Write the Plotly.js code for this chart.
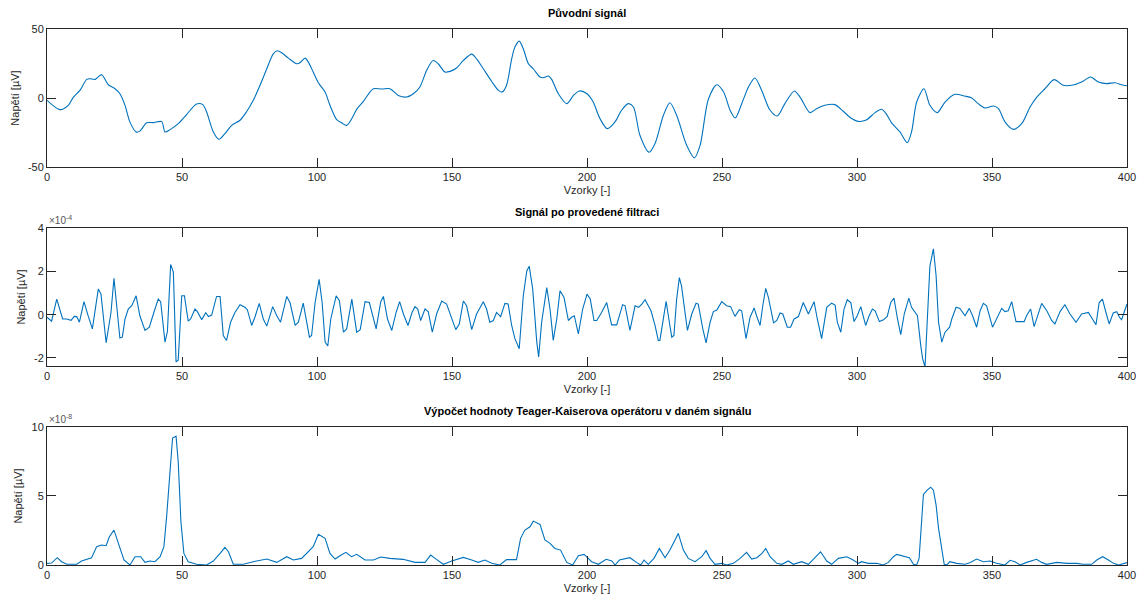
<!DOCTYPE html>
<html>
<head>
<meta charset="utf-8">
<script src="https://cdn.plot.ly/plotly-3.0.1.min.js"></script>
<style>html,body{margin:0;padding:0;background:#fff;}#chart{width:1148px;height:609px;}</style>
</head>
<body>
<div id="chart"></div>
<script>
// ---- Data ----
// Plot 1: original signal [µV]
const origX = [0,4.8,7.9,9.8,12.2,14.7,15.9,17.8,20.2,22.7,25.2,27,28.9,30.7,33,34.4,36.9,39.4,42.5,43.7,45.6,48.6,51.7,55.4,57.7,59.1,61.6,63.7,65.9,68.4,71.5,73.9,76.4,78.9,81.4,83.8,85.3,86.9,89.4,92.5,93.7,95.6,96.8,98.6,100.5,103,104.8,107.3,109.1,111,112.9,114.7,117.2,119.6,120.9,124,127,130.1,133.2,135.7,138.1,140.6,143,144.9,147.4,149.3,151.7,154.2,157.3,159.1,161.6,164.7,167.2,168.6,170.2,172.1,173.3,174.9,176.4,178.3,180.1,182.6,183.8,185.7,186.9,189.4,192.5,195,197.2,200,202.3,204.8,207.5,210.4,212.8,215.3,217.2,219.6,223,225.2,228.3,230.7,233.2,236.9,239.8,241.9,245,248.1,250.6,253,254.9,257.3,259.8,262.2,264.7,267.8,270.5,273.3,276.8,278.9,282.6,285,288.1,291.8,294.9,298,300.3,303.4,306.7,309.1,311,312.8,315.9,318.6,320.2,322.1,324.8,327,329.7,332.6,336.3,339.9,342.5,344.9,347.4,350.5,352.4,354.8,357.9,361,364.1,366.6,369.6,373,376.4,379.5,383.2,386.5,389.4,392.5,395.6,398,400];
const origY = [-1.7,-8.4,-5.3,0.7,5.5,13.5,14,13.5,16.9,9.6,6.7,3.1,-5.3,-17.3,-24.6,-24,-18,-17.8,-17.1,-24.6,-22.9,-18.6,-12,-4.3,-4.8,-10,-24.6,-29.9,-25.8,-19.8,-16.1,-10,-1.7,9.2,21.2,32,34.2,32.8,28.9,24.8,25.5,28.9,26,18.8,11.1,4.3,-5.3,-15.7,-18,-19.8,-14.9,-8.2,-2.4,4.3,6.7,6.5,6.7,1.9,0.7,3.1,8,20,27.2,24.8,18.8,19.3,21.7,27.2,31.8,28.4,21.2,12,5.5,4.3,9.2,28.4,36.9,41.2,35.7,24.8,21.2,15.2,14.7,15.9,13.5,3.1,-4.1,1.9,5.1,3.1,-2.9,-14.9,-22.2,-17.3,-8.9,-4.1,-6.5,-27,-39.3,-33,-12.5,-3.4,-12.5,-34.2,-43.4,-34.2,-0.5,9.6,4.3,-8.9,-14.5,-4.1,8,14.5,5.5,-8.9,-13,-4.1,5.1,0.7,-10.6,-7.7,-5.3,-4.8,-9.6,-14.9,-16.9,-16,-10.6,-8.2,-12,-18,-24.6,-32.3,-24.6,-2.9,6.7,-5.3,-10.6,-2.9,2.7,1.4,0,-4.1,-7.2,-5.8,-7.7,-17.3,-22.7,-18.6,-6.5,0.7,6.7,13.3,9.2,9.2,11.6,15.2,11.6,10.4,11.1,9.6,8.9];

// Plot 2: filtered signal [×1e-4 µV]
const filtX = [0,1.7,3.6,5.8,7.3,8.9,10.1,11,12,13.7,15.3,16.8,19,20,21.9,23.7,24.8,26,27,27.9,28.9,30.1,31.4,33,34.4,36.3,37.9,39.4,41.2,42.1,43.7,44.6,45.8,46.8,47.8,48.6,49.9,50.9,52.3,53.2,54.8,55.7,57.3,58.8,59.8,61,62.8,64.1,65.3,66.5,68,69.6,71.5,73.3,74.2,75.8,77,78.6,80.1,81.4,83.6,85.1,86.5,88.8,90,91.9,93.1,94.9,97.2,98,99.3,100.8,101.9,103,104,105.1,107.1,108.3,109.8,111,112.9,114.7,116,117.8,119.4,121.9,123.6,124.6,126.1,127.7,129.3,130.6,132,133.7,135.2,136.3,137.3,138.4,140,141.2,142.7,144.3,146.2,148,149.9,151.4,152.7,154.2,155.4,157.3,159.1,161.6,162.8,164,165.3,166.5,168,169.6,170.8,172.1,173.3,174.9,176.4,177.7,178.6,179.9,181.4,182.1,183.2,185.1,186.3,187.5,188.8,190,191.5,193.1,194.3,195.3,196.8,198.4,200,201.2,202.6,203.6,205.4,207.3,209.1,211,213.2,214.1,215.9,217.8,219.1,220.3,221.5,223.7,225.2,226.4,227,228.3,229.3,230.5,231.4,232.2,233.2,234.2,235,237.2,238.8,240.4,241.2,242.9,244.1,245.6,246.8,248.1,249.9,251.7,253.2,254.8,256.4,257.3,258.9,260.4,261.9,262.8,264.1,265.1,266.2,267.2,269.1,270.3,271.5,272.5,274.2,275.4,276.7,278.3,280.1,282,284.1,285.3,286.9,288.8,290.6,291.9,292.7,294,295.2,296.4,297.7,298.9,300.1,301.4,303.2,304.5,305.7,306.7,308.3,309.8,311.2,312.5,313.7,315,316.2,317.5,319.2,320.2,321.4,322.4,323.6,324.3,325.2,326,327,328.3,329.3,330.2,331.4,332.6,334.3,335.1,336.7,338.1,340,341.6,342.8,344.3,345.6,346.8,348,350.2,351.7,353.6,354.8,356,357.3,358.9,360.4,361.9,362.8,364.3,365.6,367.2,368.4,370.3,372.1,373.3,375.2,377,378.9,381.1,383.2,385.7,386.9,388.5,389.7,390.9,392.2,393.4,394.9,396.2,397.2,398,398.9,400];
const filtY = [-0.12,-0.3,0.72,-0.2,-0.2,-0.26,-0.08,-0.09,-0.35,0.6,-0.08,-0.66,1.18,0.95,-1.3,0.1,1.68,0.26,-1.08,-1.04,-0.2,0.26,0.41,0.87,-0.05,-0.73,-0.58,0.03,0.72,0.6,-1.27,-0.78,2.32,1.97,-2.18,-2.1,0.87,0.87,-0.3,-0.2,0.26,0.14,-0.23,0.09,-0.09,-0.02,0.84,0.84,-0.96,-1.19,-0.35,0.1,0.46,0.34,0.23,-0.5,-0.12,0.52,-0.2,-0.53,0.37,-0.05,-0.35,0.84,0.56,-0.5,-0.35,0.53,-1.04,-0.96,0.56,1.63,0.56,-1.27,-1.45,-0.2,0.87,0.64,-0.81,-0.66,0.72,-0.81,-0.69,0.6,0.56,-0.66,0.6,0.84,-0.2,-0.73,0.1,0.6,0.03,-0.5,0.1,0.37,0.26,-0.27,0.26,0.14,-0.81,0.03,0.63,0.49,-0.2,-0.69,-0.43,0.63,0.41,-0.69,0.03,0.6,0.26,-0.35,-0.27,0.1,-0.09,0.52,0.49,-0.5,-1.11,-1.57,0.87,2.02,2.24,1.18,-1.27,-1.95,-0.35,1.25,0.26,-1.19,-0.2,1.1,0.79,-0.27,-0.12,-0.05,-0.89,0.26,0.95,0.72,-0.27,-0.27,0.1,0.56,-0.47,-0.47,0.46,0.41,-0.73,0.41,0.34,0.49,0.69,0.18,-0.5,-1.19,-1.19,-0.05,0.61,-0.35,-1.04,-0.96,0.72,1.71,1.33,-0.73,0.03,0.53,0.49,-0.66,-1.3,-0.35,0.14,0.21,0.6,0.41,0.37,-0.08,0.23,0.18,-1.11,-0.12,0.31,-0.05,-0.5,0.41,1.21,0.79,-0.38,-0.27,0.08,0.03,-0.58,-0.58,-0.2,-0.09,0.56,0.03,0.6,-0.2,-1.11,0.34,0.53,0.44,-0.35,-0.81,0.26,0.69,0.56,-0.32,-0.05,0.37,-0.5,-0.05,0.26,0.18,-0.32,-0.24,-0.08,0.56,0.76,-0.2,-0.92,0.03,0.76,0.34,0.15,-0.05,-1.42,-2.03,-2.41,-0.35,2.24,3.04,1.79,-0.35,-1.27,-0.81,-0.58,-0.2,0.34,0.29,-0.05,0.29,-0.05,-0.58,0.18,0.52,0.41,-0.58,-0.2,0.29,0.14,0.18,0.6,-0.32,-0.32,-0.32,-0.05,0.26,-0.55,0.1,0.52,0.18,-0.27,-0.43,0.14,0.46,0.03,-0.35,0.03,0.1,-0.12,-0.47,0.56,0.72,0.1,-0.43,0.08,0.14,-0.12,-0.23,0.1,0.49];

// Plot 3: Teager-Kaiser energy [×1e-8]
const tkeoX = [0,1.7,3.8,5.4,7.3,11,12.8,14.7,16.5,18.4,20.2,21.9,23.1,24.8,27,28.5,30.7,32.6,34.7,36.3,38.1,40,41.9,43.3,44.3,45.6,46.5,47.8,48.6,49.6,50.7,52.3,55.4,59.1,61.6,64.1,65.9,67.2,69,72.7,76.4,81.4,85.1,88.8,91.2,94.3,96.8,98.6,100.5,103,104.8,106.7,108.5,110.7,112.8,114.7,117.8,120.9,123.6,127,131.9,136.3,140,142.1,144.1,146.8,149.9,154.2,157.3,159.7,162.2,164.7,167.7,170.2,173.9,175.4,177,178.9,180.1,182.6,184.4,186.3,188.1,190.2,192.5,194.7,196.8,198.9,200.5,201.7,204.2,207.1,209.2,210.4,212,215.9,218.3,219.9,221.1,222.7,224.8,226.8,228.9,230.7,232.6,233.8,235.7,237.5,240,242.5,244.1,245.6,247.4,249.9,251.7,254.2,256.7,259.1,261,262.9,264.8,266.2,267.8,270.3,272.2,274.6,276.4,279.5,282,284.5,286.5,288.8,290.6,293.1,296.2,298.6,300.5,301.7,304.2,307.3,309.7,311.6,313.5,314.7,317.2,319.4,320.9,322.1,323,323.7,324.6,326,327.3,328.3,329.3,330.2,331.4,332.3,333.2,334.4,336.9,340,341.8,344.3,346.8,349.3,351.7,354.8,356.7,358.5,360.4,362.8,366.5,368.4,370.2,374,377.6,381.3,383.8,386.9,388.8,391,393.1,395,396.9,398.8,400];
const tkeoY = [0.12,0.14,0.53,0.24,0.05,0.05,0.29,0.43,0.53,1.33,1.45,1.4,2.05,2.53,1.33,0.36,0,0.6,0.6,0.19,0.29,0.24,0.6,1.33,3.49,6.75,9.2,9.33,7.47,3.13,0.84,0.24,0.05,0,0.29,0.84,1.28,0.96,0.05,0.05,0.24,0.43,0.19,0.6,0.36,0.48,0.96,1.33,2.22,1.93,0.84,0.43,0.67,0.92,0.6,0.77,0.36,0.36,0.58,0.48,0.41,0.19,0.19,0.72,0.43,0.05,0.29,0.55,0.36,0.19,0.36,0.12,0,0.39,0.39,1.93,2.53,2.77,3.18,2.94,1.81,1.57,1.2,1.08,0.19,0,0.67,0.77,0.48,0.24,0.05,0.41,0.29,0,0.36,0.53,0.19,0,0.36,0.05,0.48,1.2,0.53,1.08,1.81,2.29,1.08,0.48,0.24,0.6,1.04,0.48,0.05,0.12,0,0.12,0.48,0.92,0.43,0.53,0.84,1.2,0.6,0.12,0.05,0.29,0.05,0.24,0.05,0.6,0.96,0.29,0.05,0.48,0.6,0.36,0.12,0.24,0.12,0.12,0,0.19,0.6,0.77,0.67,0.53,0.05,0,0.48,2.89,5.11,5.42,5.64,5.42,4.34,2.65,0.96,0.05,0,0.24,0.12,0.05,0.17,0.43,0.24,0.29,0.12,0,0.34,0.24,0,0.19,0.41,0.19,0.05,0.19,0.12,0.12,0.05,0.05,0.36,0.6,0.36,0.12,0,0.12,0.17];

const xTicks = [0,50,100,150,200,250,300,350,400];
const xTickText = ["0","50","100","150","200","250","300","350","400"];
const y1Ticks = [-50,0,50];
const y1TickText = ["-50","0","50"];
const y2Ticks = [-2,0,2,4];
const y2TickText = ["-2","0","2","4"];
const y3Ticks = [0,5,10];
const y3TickText = ["0","5","10"];
const titles = ["Původní signál","Signál po provedené filtraci","Výpočet hodnoty Teager-Kaiserova operátoru v daném signálu"];
const xLabel = "Vzorky [-]";
const yLabel = "Napětí [µV]";
const scale2 = 1e-4, scale3 = 1e-8;

// ---- Rendering ----
const blue = '#0072BD', axc = '#262626';
const fontFam = 'Liberation Sans, Arial, Helvetica, sans-serif';
const traces = [
  {x: origX, y: origY, xaxis:'x', yaxis:'y', type:'scatter', mode:'lines', line:{color:blue, width:1.1, shape:'spline', smoothing:0.8}},
  {x: filtX, y: filtY.map(v=>v*scale2), xaxis:'x2', yaxis:'y2', type:'scatter', mode:'lines', line:{color:blue, width:1.1}},
  {x: tkeoX, y: tkeoY.map(v=>v*scale3), xaxis:'x3', yaxis:'y3', type:'scatter', mode:'lines', line:{color:blue, width:1.1}}
];
function xax(anchor){
  return {anchor:anchor, range:[0,400], tickvals:xTicks, ticktext:xTickText, ticks:'inside', ticklen:9, tickcolor:axc,
    showline:true, linecolor:axc, linewidth:1, mirror:'ticks', showgrid:false, zeroline:false,
    tickfont:{size:11, color:axc}, title:{text:xLabel, font:{size:11, color:axc}, standoff:4}};
}
function yax(anchor, dom, range, tv, tt){
  return {anchor:anchor, domain:dom, range:range, tickvals:tv, ticktext:tt, ticks:'inside', ticklen:9, tickcolor:axc,
    showline:true, linecolor:axc, linewidth:1, mirror:'ticks', showgrid:false, zeroline:false,
    tickfont:{size:11, color:axc}, title:{text:yLabel, font:{size:11, color:axc}, standoff:6}};
}
const d1=[0.7425,1], d2=[0.3713,0.6287], d3=[0,0.2575];
const layout = {
  width:1148, height:609, margin:{l:47, r:21, t:29, b:44}, showlegend:false,
  paper_bgcolor:'#fff', plot_bgcolor:'#fff', font:{family:fontFam, color:axc},
  xaxis: xax('y'), xaxis2: xax('y2'), xaxis3: xax('y3'),
  yaxis: yax('x', d1, [-50,50], y1Ticks, y1TickText),
  yaxis2: yax('x2', d2, [-2.37*scale2, 4*scale2], y2Ticks.map(v=>v*scale2), y2TickText),
  yaxis3: yax('x3', d3, [0, 10*scale3], y3Ticks.map(v=>v*scale3), y3TickText),
  annotations: [
    {text:'<b>'+titles[0]+'</b>', xref:'paper', yref:'paper', x:0.5, y:d1[1], yanchor:'bottom', yshift:8, showarrow:false, font:{size:11, color:'#000'}},
    {text:'<b>'+titles[1]+'</b>', xref:'paper', yref:'paper', x:0.5, y:d2[1], yanchor:'bottom', yshift:8, showarrow:false, font:{size:11, color:'#000'}},
    {text:'<b>'+titles[2]+'</b>', xref:'paper', yref:'paper', x:0.5, y:d3[1], yanchor:'bottom', yshift:8, showarrow:false, font:{size:11, color:'#000'}},
    {text:'×10<sup>-4</sup>', xref:'paper', yref:'paper', x:0, y:d2[1], xanchor:'left', yanchor:'bottom', yshift:0, showarrow:false, font:{size:10, color:'#555'}},
    {text:'×10<sup>-8</sup>', xref:'paper', yref:'paper', x:0, y:d3[1], xanchor:'left', yanchor:'bottom', yshift:0, showarrow:false, font:{size:10, color:'#555'}}
  ]
};
Plotly.newPlot('chart', traces, layout, {displayModeBar:false, staticPlot:true});
</script>
</body>
</html>
